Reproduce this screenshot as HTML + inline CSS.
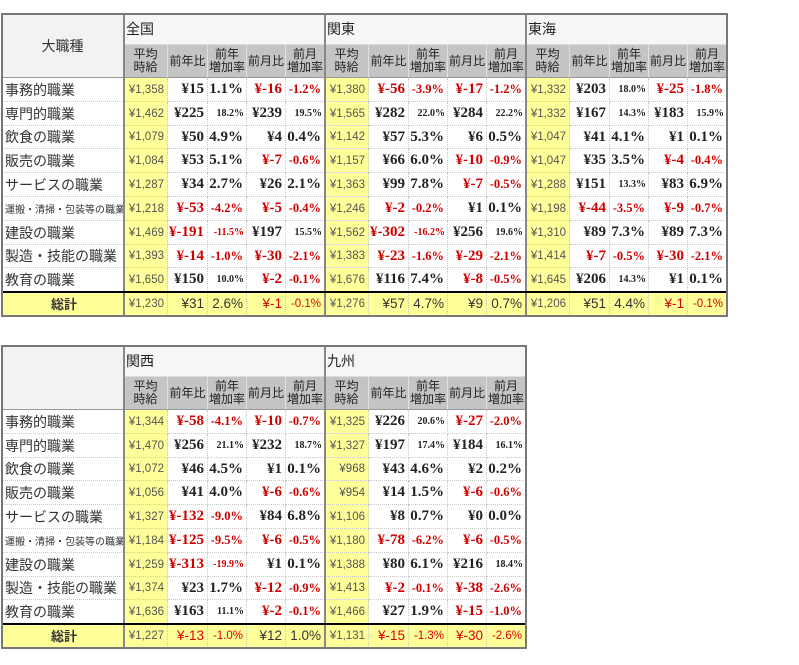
<!DOCTYPE html>
<html><head><meta charset="utf-8">
<style>
body{margin:0;width:799px;height:665px;background:#fff;position:relative;overflow:hidden;font-family:"Liberation Sans","Noto Sans CJK JP",sans-serif;}
.c{position:absolute;box-sizing:border-box;display:flex;align-items:center;white-space:nowrap;overflow:hidden;border-right:1px dotted #c8c8c8;border-bottom:1px dotted #c8c8c8;}
.hd{background:#c4c4c4;justify-content:center;text-align:center;font-size:12px;line-height:13px;color:#222;border-right:1px solid #e0e0e0;border-bottom:1px solid #999;}
.avg{background:#ffff99;justify-content:flex-end;padding-right:3px;font-size:11.5px;color:#555;}
.v{justify-content:flex-end;padding-right:3px;color:#222;font-family:"Liberation Serif","Noto Serif CJK SC",serif;font-weight:bold;font-size:15px;}
.v.neg{color:#d00000;}
.v.pn{font-size:12.5px;}
.v.s{font-size:10px;padding-right:2px;}
.lab{font-size:14px;color:#333;padding-left:3px;background:#fff;}
.tot{background:#ffff99;}
.tot.v{font-family:"Liberation Sans","Noto Sans CJK JP",sans-serif;font-weight:normal;font-size:13.5px;color:#333;}
.tot.v.neg{color:#e00000;}
.tot.v.s,.tot.v.pn{font-size:11.5px;}
.box{position:absolute;border:2px solid #777;box-sizing:border-box;pointer-events:none;}
.sep{position:absolute;background:#888;}
</style></head><body>
<script>
const labels=["事務的職業","専門的職業","飲食の職業","販売の職業","サービスの職業","運搬・清掃・包装等の職業","建設の職業","製造・技能の職業","教育の職業","総計"];
const zenkokuAvg=["1,358","1,462","1,079","1,084","1,287","1,218","1,469","1,393","1,650","1,230"];
const zenkokuYoy=[15,225,50,53,34,-53,-191,-14,150,31];
const zenkokuYoyR=["1.1","18.2","4.9","5.1","2.7","-4.2","-11.5","-1.0","10.0","2.6"];
const zenkokuMom=[-16,239,4,-7,26,-5,197,-30,-2,-1];
const zenkokuMomR=["-1.2","19.5","0.4","-0.6","2.1","-0.4","15.5","-2.1","-0.1","-0.1"];
const kantoAvg=["1,380","1,565","1,142","1,157","1,363","1,246","1,562","1,383","1,676","1,276"];
const kantoYoy=[-56,282,57,66,99,-2,-302,-23,116,57];
const kantoYoyR=["-3.9","22.0","5.3","6.0","7.8","-0.2","-16.2","-1.6","7.4","4.7"];
const kantoMom=[-17,284,6,-10,-7,1,256,-29,-8,9];
const kantoMomR=["-1.2","22.2","0.5","-0.9","-0.5","0.1","19.6","-2.1","-0.5","0.7"];
const tokaiAvg=["1,332","1,332","1,047","1,047","1,288","1,198","1,310","1,414","1,645","1,206"];
const tokaiYoy=[203,167,41,35,151,-44,89,-7,206,51];
const tokaiYoyR=["18.0","14.3","4.1","3.5","13.3","-3.5","7.3","-0.5","14.3","4.4"];
const tokaiMom=[-25,183,1,-4,83,-9,89,-30,1,-1];
const tokaiMomR=["-1.8","15.9","0.1","-0.4","6.9","-0.7","7.3","-2.1","0.1","-0.1"];
const kansaiAvg=["1,344","1,470","1,072","1,056","1,327","1,184","1,259","1,374","1,636","1,227"];
const kansaiYoy=[-58,256,46,41,-132,-125,-313,23,163,-13];
const kansaiYoyR=["-4.1","21.1","4.5","4.0","-9.0","-9.5","-19.9","1.7","11.1","-1.0"];
const kansaiMom=[-10,232,1,-6,84,-6,1,-12,-2,12];
const kansaiMomR=["-0.7","18.7","0.1","-0.6","6.8","-0.5","0.1","-0.9","-0.1","1.0"];
const kyushuAvg=["1,325","1,327","968","954","1,106","1,180","1,388","1,413","1,466","1,131"];
const kyushuYoy=[226,197,43,14,8,-78,80,-2,27,-15];
const kyushuYoyR=["20.6","17.4","4.6","1.5","0.7","-6.2","6.1","-0.1","1.9","-1.3"];
const kyushuMom=[-27,184,2,-6,0,-6,216,-38,-15,-30];
const kyushuMomR=["-2.0","16.1","0.2","-0.6","0.0","-0.5","18.4","-2.6","-1.0","-2.6"];

const regions1=[["全国",zenkokuAvg,zenkokuYoy,zenkokuYoyR,zenkokuMom,zenkokuMomR],["関東",kantoAvg,kantoYoy,kantoYoyR,kantoMom,kantoMomR],["東海",tokaiAvg,tokaiYoy,tokaiYoyR,tokaiMom,tokaiMomR]];
const regions2=[["関西",kansaiAvg,kansaiYoy,kansaiYoyR,kansaiMom,kansaiMomR],["九州",kyushuAvg,kyushuYoy,kyushuYoyR,kyushuMom,kyushuMomR]];

function cell(x,y,w,h,cls,html,name){
  const d=document.createElement('div');
  d.className='c '+cls;
  d.style.left=x+'px';d.style.top=y+'px';d.style.width=w+'px';d.style.height=h+'px';
  d.innerHTML=html;
  
  
  document.body.appendChild(d);return d;
}
function build(top,regions,showTitle,tname){
  const colW=[44,40,39,39,39];
  const RW=201;
  const y1=top,y2=top+31,y3=top+64,rh=23.8;
  const bottom=y3+rh*10;
  const right=124+regions.length*RW;
  cell(2,y1,122,y3-y1,'',showTitle?'大職種':'',tname+'-category-header').style.cssText+='background:#f2f2f2;justify-content:center;font-size:14px;color:#333;border-bottom:1px solid #999;border-right:1px solid #999;';
  regions.forEach((r,ri)=>{
    const rx=124+ri*RW;
    cell(rx,y1,RW,31,'',r[0],tname+'-region-title').style.cssText+='background:#f6f6f6;font-size:14px;color:#222;padding-left:2px;border-bottom:1px solid #ddd;';
    const heads=['平均<br>時給','前年比','前年<br>増加率','前月比','前月<br>増加率'];
    let cx=rx;
    heads.forEach((h,hi)=>{cell(cx,y2,colW[hi],33,'hd',h,tname+'-col-header');cx+=colW[hi];});
    for(let i=0;i<10;i++){
      const y=Math.round(y3+i*rh),h=Math.round(y3+(i+1)*rh)-y;
      const tot=i===9?' tot':'';
      if(ri===0){
        const l=cell(2,y,122,h,'lab'+tot,labels[i],'row-label');
        if(i===5)l.style.fontSize='10px';
        if(i===9){l.style.justifyContent='center';l.style.fontWeight='bold';l.style.fontSize='13px';}
      }
      let x=rx;
      cell(x,y,44,h,'avg','¥'+r[1][i],'avg-wage');x+=44;
      const vals=[['¥'+r[2][i],r[2][i]<0,false],[r[3][i]+'%',r[3][i][0]==='-',true],['¥'+r[4][i],r[4][i]<0,false],[r[5][i]+'%',r[5][i][0]==='-',true]];
      vals.forEach((v,vi)=>{
        let cls='v'+tot;
        if(v[1])cls+=' neg';
        if(v[2]){
          const intPart=v[0].replace('-','').split('.')[0];
          if(intPart.length>=2)cls+=' s'; else if(v[1])cls+=' pn';
        }
        cell(x,y,colW[vi+1],h,cls,v[0],'value-cell');x+=colW[vi+1];
      });
    }
    if(ri>0){const s=document.createElement('div');s.className='sep';s.style.cssText=`left:${rx-1}px;top:${y1}px;width:2px;height:${bottom-y1}px`;document.body.appendChild(s);}
  });
  const s0=document.createElement('div');s0.className='sep';s0.style.cssText=`left:123px;top:${y1}px;width:2px;height:${bottom-y1}px`;document.body.appendChild(s0);
  const tl=document.createElement('div');tl.className='sep';tl.style.cssText=`left:2px;top:${Math.round(y3+9*rh)-1}px;width:${right-2}px;height:2px;background:#000`;document.body.appendChild(tl);
  const b=document.createElement('div');b.className='box';
  b.style.left='1px';b.style.top=(y1-1)+'px';b.style.width=(right)+'px';b.style.height=(bottom-y1+2)+'px';
  
  
  document.body.appendChild(b);
}
build(14,regions1,true,'table-top');
build(346,regions2,false,'table-bottom');
</script>
</body></html>
